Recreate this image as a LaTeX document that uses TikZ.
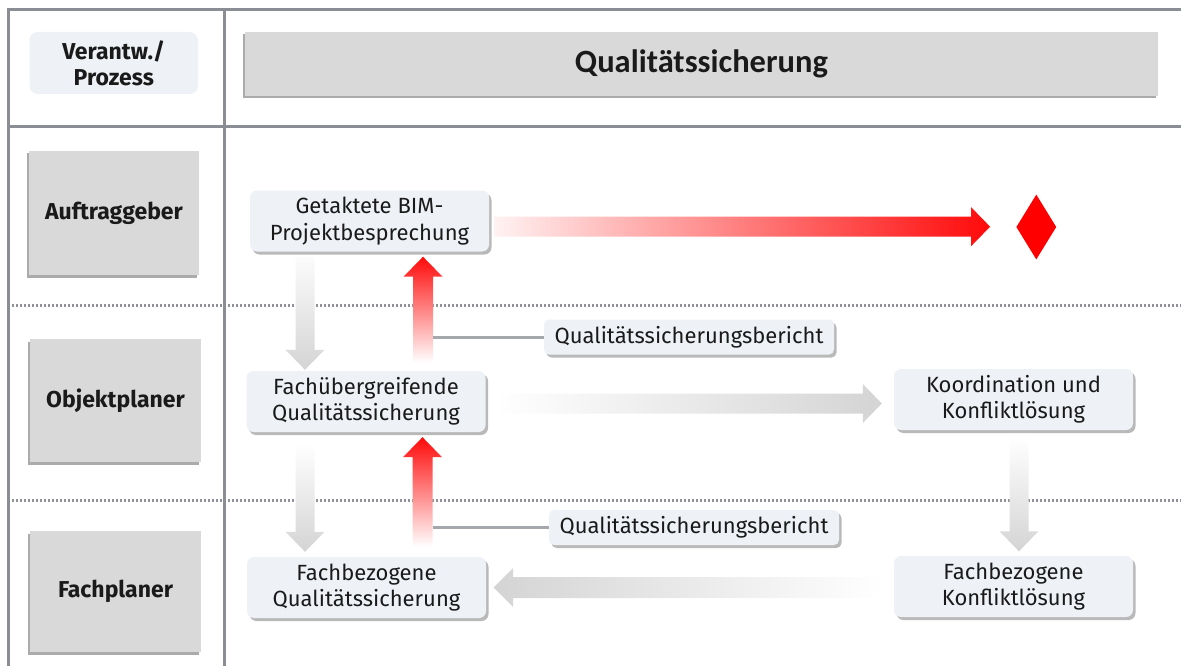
\documentclass[tikz,border=0pt]{standalone}
\usepackage{fontspec}
\setmainfont{Fira Sans}
\newfontfamily\hdrfont{Carlito}
\usetikzlibrary{shadows,calc,shapes.geometric}
\definecolor{framegray}{HTML}{8A8D93}
\definecolor{dotgray}{HTML}{8F9399}
\definecolor{lanefill}{HTML}{D9D9D9}
\definecolor{procfill}{HTML}{EEF2F6}
\definecolor{arrgray}{HTML}{D4D4D4}
\definecolor{arrred}{HTML}{FF0A0A}
\definecolor{palered}{HTML}{FFF2F2}
\definecolor{conngray}{HTML}{A4A7AC}
\definecolor{txt}{HTML}{1A1A1A}
\newcommand\downshade[4]{%
  \shade[top color=#3,bottom color=#4] let \p1=(#1),\p2=(#2) in
  (\x1-9.5pt,\y1) -- (\x1+9.5pt,\y1) -- (\x1+9.5pt,\y2+20pt) -- (\x1+19.5pt,\y2+20pt)
  -- (\x1,\y2) -- (\x1-19.5pt,\y2+20pt) -- (\x1-9.5pt,\y2+20pt) -- cycle;}
\newcommand\upshade[4]{%
  \shade[bottom color=#3,top color=#4] let \p1=(#1),\p2=(#2) in
  (\x1-10pt,\y1) -- (\x1+10pt,\y1) -- (\x1+10pt,\y2-20pt) -- (\x1+19.5pt,\y2-20pt)
  -- (\x1,\y2) -- (\x1-19.5pt,\y2-20pt) -- (\x1-10pt,\y2-20pt) -- cycle;}
\newcommand\rightshade[4]{%
  \shade[left color=#3,right color=#4] let \p1=(#1),\p2=(#2) in
  (\x1,\y1+10pt) -- (\x2-19pt,\y1+10pt) -- (\x2-19pt,\y1+19.5pt) -- (\x2,\y1)
  -- (\x2-19pt,\y1-19.5pt) -- (\x2-19pt,\y1-10pt) -- (\x1,\y1-10pt) -- cycle;}
\newcommand\leftshade[4]{%
  \shade[right color=#3,left color=#4] let \p1=(#1),\p2=(#2) in
  (\x1,\y1+10.5pt) -- (\x2+19.5pt,\y1+10.5pt) -- (\x2+19.5pt,\y1+19.5pt) -- (\x2,\y1)
  -- (\x2+19.5pt,\y1-19.5pt) -- (\x2+19.5pt,\y1-10.5pt) -- (\x1,\y1-10.5pt) -- cycle;}
\begin{document}
\begin{tikzpicture}[x=1pt,y=-1pt,
  frameline/.style={draw=framegray,line width=3pt},
  dotline/.style={draw=dotgray,line width=3pt,dash pattern=on 2.4pt off 1.6pt},
  lanebox/.style={fill=lanefill,inner sep=0pt,text=txt,
    font=\fontsize{23}{26}\selectfont\bfseries,
    drop shadow={shadow xshift=-2pt,shadow yshift=-2.5pt,fill=black!55,opacity=.6}},
  procbox/.style={fill=procfill,rounded corners=7pt,inner sep=0pt,align=center,
    minimum width=239,minimum height=61,text=txt,
    font=\fontsize{22}{26.5}\selectfont,
    drop shadow={shadow xshift=2.5pt,shadow yshift=-3pt,fill=black!50,opacity=.55}},
  labelbox/.style={procbox,minimum width=290,minimum height=35,rounded corners=5pt},
  conn/.style={draw=conngray,line width=3pt}]
\useasboundingbox (0,0) rectangle (1181,666);
% dotted separators
\draw[dotline] (8,305) -- (1181,305);
\draw[dotline] (8,500.5) -- (1181,500.5);
% frame
\draw[frameline] (1181,9.3) -- (8.3,9.3) -- (8.3,666);
\draw[frameline] (224,9.3) -- (224,666);
\draw[frameline] (8.3,126.7) -- (1181,126.7);
% header
\node[fill=procfill,rounded corners=8pt,minimum width=168.5,minimum height=62,inner sep=0pt,
  align=center,text=txt,font=\fontsize{23}{26}\selectfont\bfseries] (verantw) at (113.75,63) {Verantw./\\Prozess};
\node[lanebox,minimum width=912.7,minimum height=64,font=\hdrfont\fontsize{32.5}{34}\selectfont\bfseries] (header) at (701.4,63.9) {Qualitätssicherung};
% lanes
\node[lanebox,minimum width=170,minimum height=124] (auftr) at (114,213) {Auftraggeber};
\node[lanebox,minimum width=171,minimum height=123] (objekt) at (115.5,400.5) {Objektplaner};
\node[lanebox,minimum width=171,minimum height=121] (fachpl) at (115.5,591.5) {Fachplaner};
% process nodes
\node[procbox] (getaktete) at (369.5,221) {Getaktete BIM-\\Projektbesprechung};
\node[procbox] (fachueb) at (366,401.5) {Fachübergreifende\\Qualitätssicherung};
\node[procbox] (fachbezQS) at (366.5,587.5) {Fachbezogene\\Qualitätssicherung};
\node[procbox] (koord) at (1013.5,399.5) {Koordination und\\Konfliktlösung};
\node[procbox] (fachbezKL) at (1013.5,586.5) {Fachbezogene\\Konfliktlösung};
\node[labelbox] (label1) at (689,337) {Qualitätssicherungsbericht};
\node[labelbox] (label2) at (694,527.5) {Qualitätssicherungsbericht};
\node[diamond,fill=red,draw=none,minimum width=40,minimum height=65,inner sep=0pt,aspect=0.6] (goal) at (1036.3,227) {};
% block arrows
\rightshade{$(getaktete.east)+(5,5.7)$}{$(goal.west)+(-26,0)$}{palered}{arrred}
\downshade{$(getaktete.south)+(-64.5,5)$}{$(fachueb.north)+(-61,-1)$}{white!92!arrgray}{arrgray}
\upshade{$(fachueb.north)+(57,-8)$}{$(getaktete.south)+(53.5,5)$}{white}{arrred}
\rightshade{$(fachueb.east)+(10,2)$}{$(koord.west)+(-12,0)$}{white}{arrgray}
\downshade{$(fachueb.south)+(-61,11)$}{$(fachbezQS.north)+(0,-5)$}{white}{arrgray}
\upshade{$(fachbezQS.north)+(56,-10)$}{$(fachueb.south)+(0,5)$}{white}{arrred}
\downshade{$(koord.south)+(5.5,7)$}{$(fachbezKL.north)+(0,-4.5)$}{white}{arrgray}
\leftshade{$(fachbezKL.west)+(-11,1)$}{$(fachbezQS.east)+(7.5,0)$}{white}{arrgray}
% report connectors
\coordinate (r1) at (433,337);
\coordinate (r2) at (433,527.5);
\draw[conn] (label1.west) -- (r1);
\draw[conn] (label2.west) -- (r2);
\end{tikzpicture}
\end{document}
